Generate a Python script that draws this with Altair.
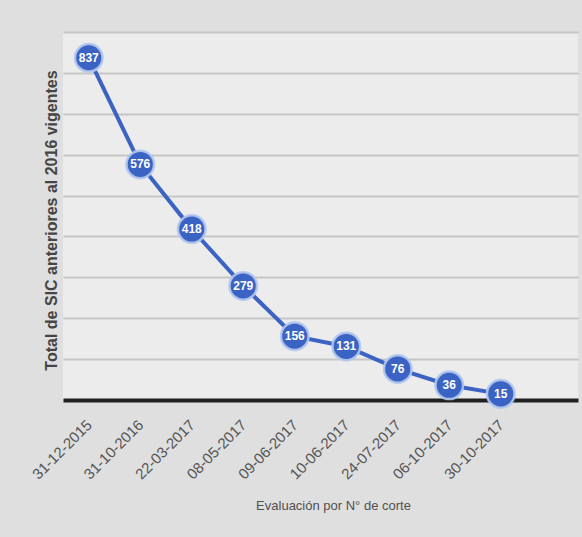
import altair as alt
import pandas as pd

# Cut-off dates and the number of SIC still in force at each cut
fechas = ["31-12-2015", "31-10-2016", "22-03-2017", "08-05-2017", "09-06-2017",
          "10-06-2017", "24-07-2017", "06-10-2017", "30-10-2017"]
totales = [837, 576, 418, 279, 156, 131, 76, 36, 15]
y_grid = [100, 200, 300, 400, 500, 600, 700, 800, 900]

df = pd.DataFrame({"idx": list(range(len(fechas))), "fecha": fechas, "total": totales})

label_expr = "[" + ",".join(f"'{f}'" for f in fechas) + "][datum.value]"

BLUE = "#3b63c4"

x = alt.X(
    "idx:Q",
    scale=alt.Scale(domain=[-0.5, 9.5], nice=False, zero=False),
    axis=alt.Axis(
        values=list(range(len(fechas))),
        labelExpr=label_expr,
        labelAngle=-45,
        labelAlign="right",
        labelBaseline="middle",
        labelPadding=22,
        labelOverlap=False,
        labelFont="Liberation Sans",
        labelFontSize=15,
        labelColor="#555555",
        ticks=False,
        grid=False,
        domainColor="#202020",
        domainWidth=4,
        title="Evaluación por N° de corte",
        titleFont="Liberation Sans",
        titleFontSize=13,
        titleFontWeight="normal",
        titleColor="#505050",
        titlePadding=18,
        titleX=270,
    ),
)
y = alt.Y(
    "total:Q",
    scale=alt.Scale(domain=[0, 900], nice=False),
    axis=alt.Axis(
        values=y_grid,
        labels=False,
        ticks=False,
        domain=False,
        gridColor="#c6c6c6",
        gridWidth=2,
        title="Total de SIC anteriores al 2016  vigentes",
        titleFont="Liberation Sans",
        titleFontSize=16,
        titleFontWeight="bold",
        titleColor="#454545",
        titlePadding=4,
        titleY=188,
    ),
)

base = alt.Chart(df).encode(x=x, y=y)

line = base.mark_line(color=BLUE, strokeWidth=4)
dots = base.mark_point(
    shape="circle", filled=True, size=760, color=BLUE, opacity=1,
    stroke="#b3c8ef", strokeWidth=2.5, strokeOpacity=0.9,
)
labels = base.mark_text(
    color="white", font="Liberation Sans", fontSize=12, fontWeight="bold",
).encode(text="total:Q")

chart = (
    alt.layer(line, dots, labels)
    .properties(
        width=515,
        height=368,
        autosize=alt.AutoSizeParams(type="none"),
        padding={"left": 63, "top": 32, "right": 4, "bottom": 137},
        background="#dfdfdf",
    )
    .configure_view(stroke=None, fill="#ececec")
)

chart.save("out.html", embed_options={"renderer": "svg", "actions": False})
